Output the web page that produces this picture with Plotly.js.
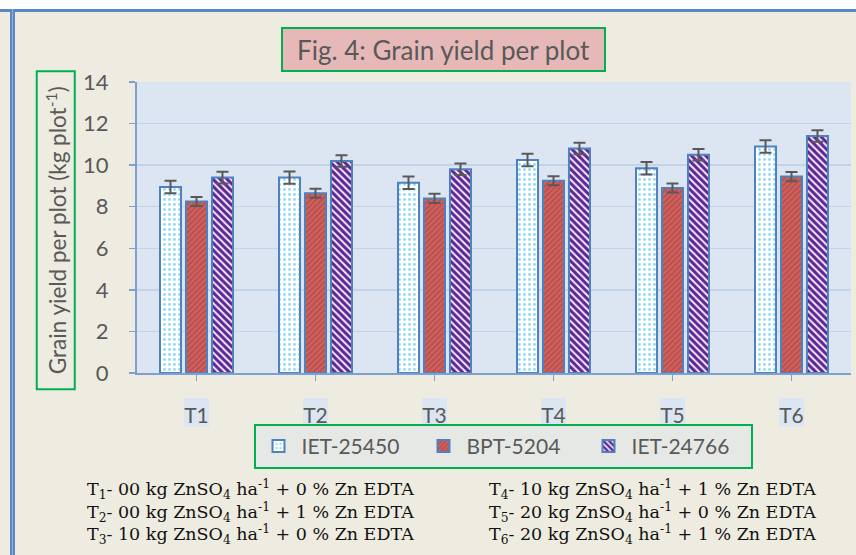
<!DOCTYPE html>
<html>
<head>
<meta charset="utf-8">
<script src="https://cdn.plot.ly/plotly-3.0.1.min.js"></script>
<style>
  html, body { margin: 0; padding: 0; background: #EEEBE0; }
  #wrap { position: relative; width: 856px; height: 555px; overflow: hidden; }
  #chart { position: absolute; left: 0; top: 0; width: 856px; height: 555px; }
  .topwhite { position: absolute; left: 0; top: 0; width: 856px; height: 9px; background: #ffffff; }
  .topline { position: absolute; left: 0; top: 9px; width: 856px; height: 3px; background: #5B87C5; }
  .leftline { position: absolute; left: 10px; top: 9px; width: 5px; height: 546px; background: #5B87C5; }
  .leftline2 { position: absolute; left: 12px; top: 9px; width: 1px; height: 546px; background: #8FB0DD; }
</style>
</head>
<body>
<div id="wrap">
  <div id="chart"></div>
  <div class="topwhite"></div>
  <div class="topline"></div>
  <div class="leftline"></div>
  <div class="leftline2"></div>
</div>
<script>
// ---- data ----
const categories = ["T1", "T2", "T3", "T4", "T5", "T6"];
const seriesNames = ["IET-25450", "BPT-5204", "IET-24766"];
const iet25450 = [8.95, 9.4, 9.15, 10.25, 9.85, 10.9];
const bpt5204 = [8.25, 8.65, 8.4, 9.25, 8.9, 9.45];
const iet24766 = [9.4, 10.2, 9.8, 10.8, 10.5, 11.4];
const errIet25450 = [0.3, 0.3, 0.3, 0.3, 0.3, 0.3];
const errBpt5204 = [0.22, 0.22, 0.22, 0.22, 0.22, 0.22];
const errIet24766 = [0.28, 0.28, 0.28, 0.28, 0.28, 0.28];
const yTicks = [0, 2, 4, 6, 8, 10, 12, 14];
const chartTitle = "Fig. 4: Grain yield per plot";
const yTitle = "Grain yield per plot (kg plot<sup>-1</sup>)";
const treatmentNotes = [
  "T<sub>1</sub>- 00 kg ZnSO<sub>4</sub> ha<sup>-1</sup> + 0 % Zn EDTA",
  "T<sub>2</sub>- 00 kg ZnSO<sub>4</sub> ha<sup>-1</sup> + 1 % Zn EDTA",
  "T<sub>3</sub>- 10 kg ZnSO<sub>4</sub> ha<sup>-1</sup> + 0 % Zn EDTA",
  "T<sub>4</sub>- 10 kg ZnSO<sub>4</sub> ha<sup>-1</sup> + 1 % Zn EDTA",
  "T<sub>5</sub>- 20 kg ZnSO<sub>4</sub> ha<sup>-1</sup> + 0 % Zn EDTA",
  "T<sub>6</sub>- 20 kg ZnSO<sub>4</sub> ha<sup>-1</sup> + 1 % Zn EDTA"
];

// ---- geometry helpers (pixels -> paper) ----
const W = 856, H = 555;
const PL = 137, PR = 851, PT = 81.5, PB = 373;
const px = x => (x - PL) / (PR - PL);
const py = y => (PB - y) / (PB - PT);

const sans = "Lato, 'Open Sans', sans-serif";
const outline = { color: "#4F81BD", width: 2 };
const errStyle = arr => ({ type: "data", array: arr, visible: true, color: "#595959", thickness: 2, width: 6 });

const traces = [
  {
    type: "bar", name: seriesNames[0], x: categories, y: iet25450,
    error_y: errStyle(errIet25450),
    marker: { color: "#FFFFFF", line: outline,
      pattern: { shape: ".", fgcolor: "#1FB4F0", bgcolor: "#FFFFFF", size: 5, solidity: 0.25, fillmode: "overlay" } }
  },
  {
    type: "bar", name: seriesNames[1], x: categories, y: bpt5204,
    error_y: errStyle(errBpt5204),
    marker: { color: "#C0504D", line: outline,
      pattern: { shape: "/", fgcolor: "#E08A86", bgcolor: "#C0504D", size: 4, solidity: 0.3, fillmode: "overlay" } }
  },
  {
    type: "bar", name: seriesNames[2], x: categories, y: iet24766,
    error_y: errStyle(errIet24766),
    marker: { color: "#F3EEF8", line: outline,
      pattern: { shape: "\\", fgcolor: "#5E2596", bgcolor: "#F3EEF8", size: 5, solidity: 0.6, fillmode: "replace" } }
  }
];

const shapes = categories.map((c, i) => ({
  type: "rect", xref: "x", yref: "paper", layer: "below",
  x0: i - 0.105, x1: i + 0.105, y0: py(398), y1: py(427),
  fillcolor: "#DCE6F2", line: { width: 0 }
}));

const annotations = [
  {
    xref: "paper", yref: "paper", x: px(443.5), y: py(48.5), xanchor: "center", yanchor: "middle",
    text: chartTitle, showarrow: false,
    font: { family: sans, size: 26, color: "#595959" },
    bgcolor: "#E6B9B8", bordercolor: "#00B050", borderwidth: 2, borderpad: 0,
    width: 321, height: 41
  },
  {
    xref: "paper", yref: "paper", x: px(56), y: py(230), xanchor: "center", yanchor: "middle",
    text: yTitle, showarrow: false, textangle: -90,
    font: { family: sans, size: 22.5, color: "#595959" },
    bordercolor: "#00B050", borderwidth: 2, borderpad: 0,
    width: 316, height: 36
  }
];
const noteX = [85, 85, 85, 487, 487, 487];
const noteY = [490, 512.5, 535, 490, 512.5, 535];
treatmentNotes.forEach((t, i) => {
  annotations.push({
    xref: "paper", yref: "paper", x: px(noteX[i]), y: py(noteY[i]), xanchor: "left", yanchor: "middle",
    text: t, showarrow: false,
    font: { family: "'DejaVu Serif', serif", size: 17.5, color: "#111111" }
  });
});

const layout = {
  width: W, height: H,
  margin: { l: PL, r: W - PR, t: PT, b: H - PB, pad: 0 },
  paper_bgcolor: "#EEEBE0",
  plot_bgcolor: "#DCE6F2",
  showlegend: true,
  barmode: "group",
  bargap: 0.345,
  bargroupgap: 0.19,
  xaxis: {
    type: "category",
    showline: true, linecolor: "#7F9FCF", linewidth: 2,
    ticks: "outside", ticklen: 6, tickcolor: "#7F9FCF", tickwidth: 1.5,
    ticklabelstandoff: 17,
    tickfont: { family: sans, size: 21, color: "#595959" },
    showgrid: false, zeroline: false
  },
  yaxis: {
    range: [0, 14], tickvals: yTicks, ticktext: yTicks.map(String),
    showline: true, linecolor: "#7F9FCF", linewidth: 2,
    ticks: "outside", ticklen: 6, tickcolor: "#7F9FCF", tickwidth: 1.5,
    ticklabelstandoff: 16,
    tickfont: { family: sans, size: 22, color: "#595959" },
    showgrid: true, gridcolor: "#C3D3EA", gridwidth: 1.5, zeroline: false
  },
  legend: {
    orientation: "h", x: px(503), y: py(424), xanchor: "center", yanchor: "top",
    bgcolor: "#E6E8E5", bordercolor: "#00B050", borderwidth: 2,
    font: { family: sans, size: 21, color: "#595959" },
    entrywidth: 114, entrywidthmode: "pixels", itemwidth: 36
  },
  shapes: shapes,
  annotations: annotations
};

Plotly.newPlot("chart", traces, layout, { displayModeBar: false, staticPlot: true });
</script>
</body>
</html>
